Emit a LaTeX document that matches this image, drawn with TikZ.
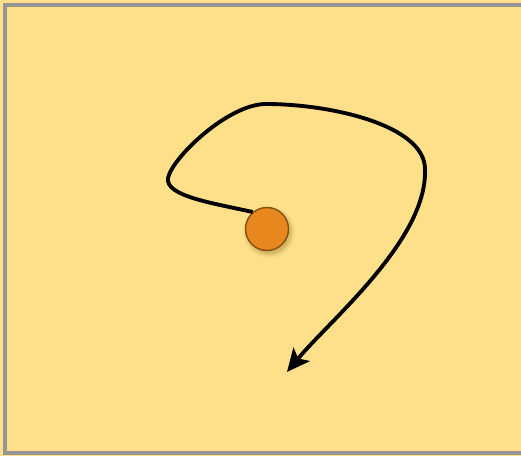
\documentclass[tikz,border=0pt]{standalone}
\usepackage{xcolor}
\usetikzlibrary{arrows.meta, shadows}

\definecolor{paper}{RGB}{255,224,138}
\definecolor{frame}{RGB}{150,150,150}
\definecolor{ballfill}{RGB}{232,135,30}
\definecolor{balledge}{RGB}{130,80,15}
\definecolor{ballshade}{RGB}{120,90,20}

\begin{document}
\begin{tikzpicture}[x=0.02cm, y=-0.02cm, >={Stealth[length=13pt, width=12pt, inset=3pt]}]

  % Background sheet (pixel grid, y pointing down)
  \useasboundingbox (0, 0) rectangle (521, 456);
  \fill[paper] (0, 0) rectangle (521, 456);
  \draw[frame, line width=2.2pt] (521, 5) -- (5, 5) -- (5, 453) -- (521, 453);

  % Key coordinates
  \coordinate (C) at (267, 229);      % Ball centre
  \coordinate (L) at (168, 178);      % Leftmost turn
  \coordinate (T) at (266, 104);      % Top of the loop
  \coordinate (R) at (425, 170);      % Rightmost turn
  \coordinate (tip) at (287, 372);    % Arrow end

  % Soft shadow under the ball
  \foreach \r/\op in {26/0.06, 24.5/0.08, 23/0.10, 21.5/0.12} {
    \fill[ballshade, opacity=\op] (C) ++(2, 3) circle (\r);
  }

  % Ball
  \node[circle, draw=balledge, fill=ballfill, line width=0.8pt, minimum size=43*0.02cm, inner sep=0pt] (ball) at (C) {};

  % Path of the ball
  \draw[line width=2.2pt, ->] (ball.130) .. controls (212, 203) and (165, 196) .. (L)
    .. controls (172, 158) and (228, 104) .. (T)
    .. controls (330, 104) and (426, 125) .. (R)
    .. controls (427, 240) and (330, 320) .. (tip);
\end{tikzpicture}
\end{document}
